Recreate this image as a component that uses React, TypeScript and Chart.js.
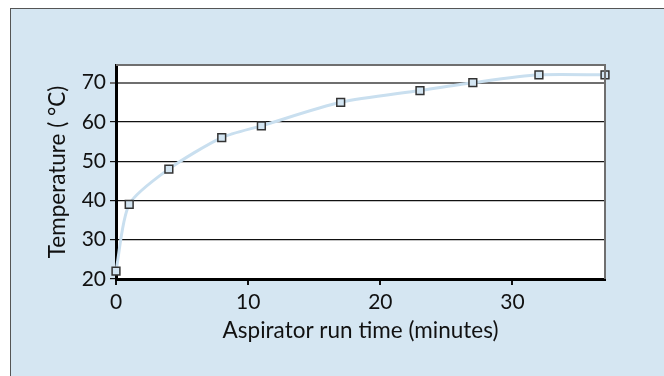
import React, { useEffect, useRef } from "react";
import { Chart, registerables } from "chart.js";

Chart.register(...registerables);

const runTimes = [0, 1, 4, 8, 11, 17, 23, 27, 32, 37];
const temperatures = [22, 39, 48, 56, 59, 65, 68, 70, 72, 72];
const xTickValues = [0, 10, 20, 30];
const yTickValues = [20, 30, 40, 50, 60, 70];
const xTitle = "Aspirator run time (minutes)";
const yTitle = "Temperature ( \u00B0C)";

const FONT = "Lato, 'Noto Sans', sans-serif";
const SIZE = 21;
const TITLE_SIZE = 22.5;

const framePlugin = {
  id: "frame",
  beforeDraw(chart: any) {
    const { ctx, chartArea } = chart;
    ctx.save();
    ctx.fillStyle = "#ffffff";
    ctx.fillRect(chartArea.left, chartArea.top, chartArea.right - chartArea.left, chartArea.bottom - chartArea.top);
    ctx.restore();
  },
  afterDraw(chart: any) {
    const { ctx, chartArea } = chart;
    ctx.save();
    ctx.strokeStyle = "#6f6f6f";
    ctx.lineWidth = 2;
    ctx.beginPath();
    ctx.moveTo(chartArea.left, chartArea.top);
    ctx.lineTo(chartArea.right, chartArea.top);
    ctx.lineTo(chartArea.right, chartArea.bottom);
    ctx.stroke();
    ctx.restore();
  },
};

export default function App() {
  const ref = useRef<HTMLCanvasElement | null>(null);
  useEffect(() => {
    if (!ref.current) return;
    const chart = new Chart(ref.current, {
      type: "line",
      data: {
        datasets: [
          {
            data: runTimes.map((x, i) => ({ x, y: temperatures[i] })),
            borderColor: "#c9dfef",
            borderWidth: 3,
            tension: 0.25,
            pointStyle: "rect",
            pointRadius: 5.5,
            pointBackgroundColor: "#d3e5f2",
            pointBorderColor: "#333333",
            pointBorderWidth: 1.5,
            clip: false,
          },
        ],
      },
      options: {
        animation: false,
        responsive: false,
        devicePixelRatio: 1,
        layout: { padding: { left: 0, top: 65, right: 59, bottom: 0 } },
        plugins: { legend: { display: false }, tooltip: { enabled: false } },
        scales: {
          x: {
            type: "linear",
            min: 0,
            max: 37,
            afterBuildTicks: (s: any) => { s.ticks = xTickValues.map((v) => ({ value: v })); },
            afterFit: (s: any) => { s.height = 97; },
            ticks: { autoSkip: false, color: "#111", font: { family: FONT, size: SIZE }, padding: 5, maxRotation: 0 },
            grid: { drawOnChartArea: false, drawTicks: true, tickLength: 6, color: "#111", lineWidth: 2 },
            border: { display: true, color: "#000", width: 3 },
            title: { display: true, text: xTitle, color: "#111", font: { family: FONT, size: TITLE_SIZE }, padding: { top: 0, bottom: 32 } },
          },
          y: {
            type: "linear",
            min: 20,
            max: 74.5,
            afterBuildTicks: (s: any) => { s.ticks = yTickValues.map((v) => ({ value: v })); },
            afterFit: (s: any) => { s.width = 116; },
            ticks: { autoSkip: false, color: "#111", font: { family: FONT, size: SIZE }, padding: 4 },
            grid: {
              drawTicks: true,
              tickLength: 6,
              color: (c: any) => (c.tick && c.tick.value === 70 ? "#6f6f6f" : "#111"),
              lineWidth: (c: any) => (c.tick && c.tick.value === 70 ? 2 : 1.2),
            },
            border: { display: true, color: "#000", width: 3 },
            title: { display: true, text: yTitle, color: "#111", font: { family: FONT, size: TITLE_SIZE }, padding: { top: 44, bottom: 0 } },
          },
        },
      },
      plugins: [framePlugin],
    });
    return () => chart.destroy();
  }, []);

  return (
    <>
      <div
        style={{
          position: "fixed",
          left: 10,
          top: 8,
          right: 0,
          bottom: 0,
          background: "#d5e6f2",
          borderLeft: "1.5px solid #555",
          borderTop: "1.5px solid #555",
        }}
      />
      <canvas
        ref={ref}
        width={664}
        height={376}
        style={{ position: "fixed", left: 0, top: 0, width: 664, height: 376 }}
      />
    </>
  );
}
